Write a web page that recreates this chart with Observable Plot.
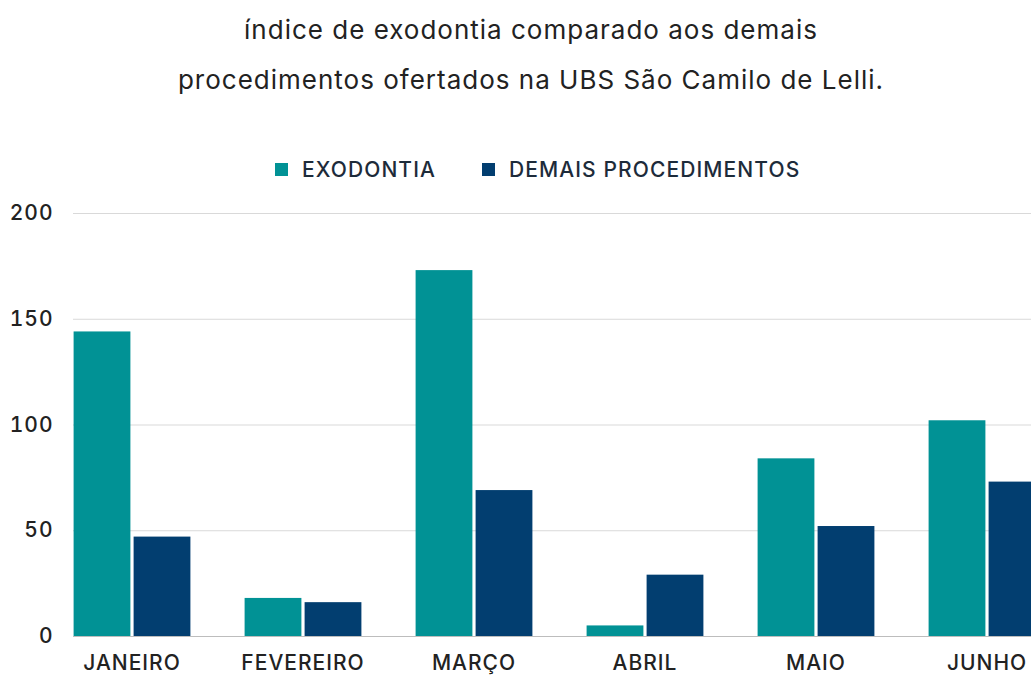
<!DOCTYPE html>
<html>
<head>
<meta charset="utf-8">
<script src="https://cdn.jsdelivr.net/npm/d3@7"></script>
<script src="https://cdn.jsdelivr.net/npm/@observablehq/plot@0.6"></script>
<style>
  html, body { margin: 0; padding: 0; background: #fff; overflow: hidden; width: 1031px; height: 675px; }
  body { position: relative; font-family: Inter, "Open Sans", sans-serif; }
  #title { position: absolute; left: 0; top: 5px; width: 1062px; text-align: center; font-size: 26px; line-height: 50px; color: #222; letter-spacing: 1px; }
  #legend { position: absolute; left: 275px; top: 157px; height: 24px; display: flex; align-items: center; font-size: 21px; font-weight: 500; letter-spacing: 1.1px; color: #1d2b3a; }
  #legend .sw { width: 13px; height: 13px; display: inline-block; margin-right: 14px; }
  #legend .item { display: flex; align-items: center; margin-right: 46px; }
  #chart { position: absolute; left: 0; top: 195px; }
</style>
</head>
<body>
<div id="title"></div>
<div id="legend"></div>
<div id="chart"></div>
<script>
const titleLines = ["índice de exodontia comparado aos demais", "procedimentos ofertados na UBS São Camilo de Lelli."];
const months = ["JANEIRO", "FEVEREIRO", "MARÇO", "ABRIL", "MAIO", "JUNHO"];
const exodontia = [144, 18, 173, 5, 84, 102];
const demais = [47, 16, 69, 29, 52, 73];
const seriesNames = ["EXODONTIA", "DEMAIS PROCEDIMENTOS"];
const seriesColors = ["#019295", "#023e70"];
const yTicks = [0, 50, 100, 150, 200];

document.getElementById("title").innerHTML = titleLines.map(t => `<div>${t}</div>`).join("");
document.getElementById("legend").innerHTML = seriesNames.map((n, i) =>
  `<span class="item"><span class="sw" style="background:${seriesColors[i]}"></span>${n}</span>`).join("");

const rows = months.map((m, i) => ({month: m, exo: exodontia[i], dem: demais[i]}));

const chart = Plot.plot({
  width: 1031,
  height: 480,
  marginTop: 18,
  marginLeft: 73,
  marginRight: 0,
  marginBottom: 39,
  style: {fontFamily: "Inter, 'Open Sans', sans-serif", fontSize: "21px", fontWeight: 500, letterSpacing: "1px", color: "#222", background: "white", overflow: "hidden"},
  x: {domain: months, range: [45.4, 1072.6], padding: 0, label: null},
  y: {domain: [0, 200], label: null},
  marks: [
    Plot.ruleY(yTicks.filter(d => d > 0), {stroke: "#d9d9d9", strokeWidth: 1}),
    Plot.barY(rows, {x: "month", y: "exo", fill: seriesColors[0], insetLeft: 27.6, insetRight: 86.6}),
    Plot.barY(rows, {x: "month", y: "dem", fill: seriesColors[1], insetLeft: 87.6, insetRight: 26.6}),
    Plot.ruleY([0], {stroke: "#bdbdbd", strokeWidth: 1}),
    Plot.axisX({tickSize: 0, tickPadding: 19, fill: "#222", label: null}),
    Plot.axisY({ticks: yTicks, tickSize: 0, tickPadding: 20, fill: "#222", label: null})
  ]
});
document.getElementById("chart").appendChild(chart);
</script>
</body>
</html>
